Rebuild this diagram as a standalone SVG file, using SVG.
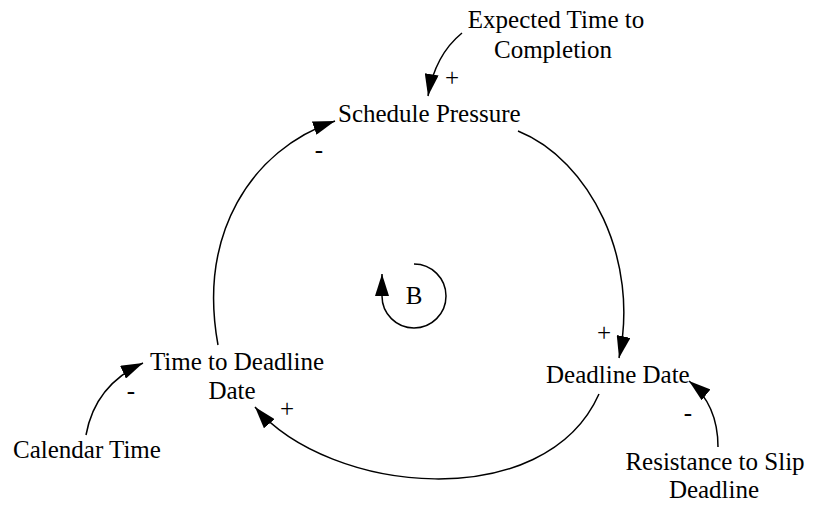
<svg xmlns="http://www.w3.org/2000/svg" width="813" height="505" viewBox="0 0 813 505">
<style>
text { font-family: "Liberation Serif", "Times New Roman", serif; font-size: 25px; fill: #000; }
.c { text-anchor: middle; }
.link { fill: none; stroke: #000; stroke-width: 1.5; marker-end: url(#ah); }
</style>
<defs>
<marker id="ah" viewBox="0 0 22 14" refX="22" refY="7" markerWidth="22" markerHeight="14" markerUnits="userSpaceOnUse" orient="auto">
<path d="M0,0 L22,7 L0,14 z" fill="#000"/>
</marker>
</defs>
<rect width="813" height="505" fill="#fff"/>
<g id="connectors">
<path class="link" d="M462,33 Q435,55 428,96"/>
<path class="link" d="M518,131 C590,160 640,260 619,358"/>
<path class="link" d="M599,394 C545,515 330,495 255,407"/>
<path class="link" d="M218,345 C198,235 250,150 335,121"/>
<path class="link" d="M86,435 Q95,385 143,363"/>
<path class="link" d="M718,447 C718,420 710,398 689,381"/>
<path class="link" d="M414,264 A32,32 0 1 1 382,296 L382,274"/>
</g>
<g id="polarities">
<text class="c" x="452" y="86">+</text>
<text class="c" x="319" y="158">-</text>
<text class="c" x="604" y="341">+</text>
<text class="c" x="287" y="417">+</text>
<text class="c" x="131" y="399">-</text>
<text class="c" x="688" y="421">-</text>
</g>
<g id="expected-time">
<text class="c" x="556" y="28">Expected Time to</text>
<text class="c" x="553" y="58">Completion</text>
</g>
<g id="schedule-pressure">
<text x="338" y="122">Schedule Pressure</text>
</g>
<g id="deadline-date">
<text x="546" y="383">Deadline Date</text>
</g>
<g id="time-to-deadline">
<text class="c" x="237" y="370">Time to Deadline</text>
<text class="c" x="232" y="399">Date</text>
</g>
<g id="calendar-time">
<text x="13" y="458">Calendar Time</text>
</g>
<g id="resistance">
<text class="c" x="715" y="470">Resistance to Slip</text>
<text class="c" x="714" y="498">Deadline</text>
</g>
<g id="loop-b">
<text class="c" x="414" y="304">B</text>
</g>
</svg>
